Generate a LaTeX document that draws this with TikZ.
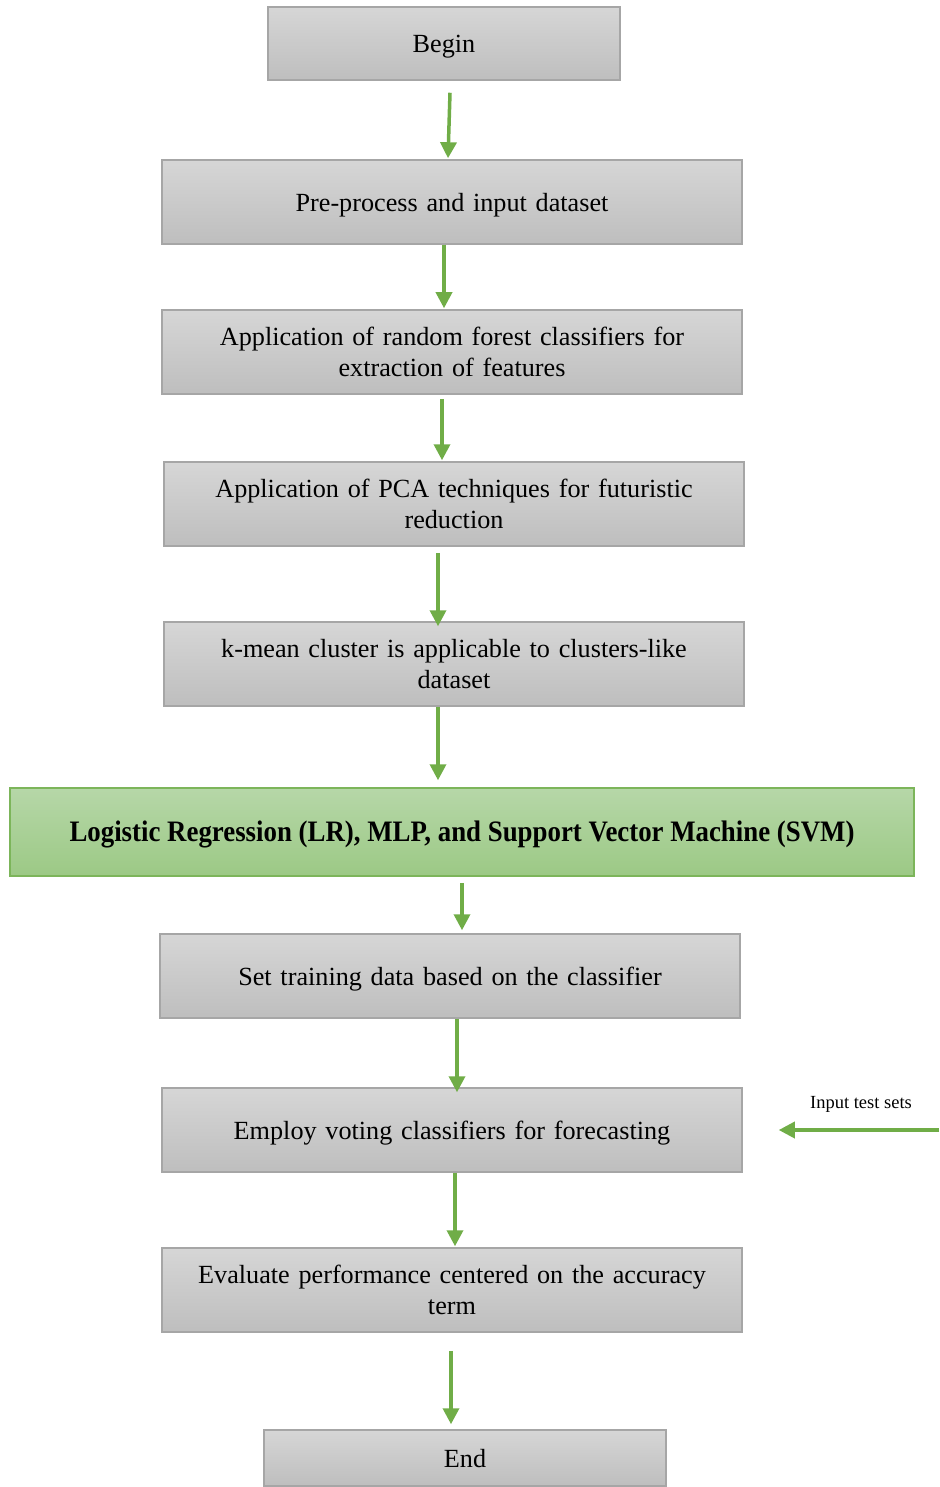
\documentclass[tikz,border=0pt]{standalone}
\usepackage{fontspec}
\setmainfont{Liberation Serif}
\usetikzlibrary{arrows.meta}
\definecolor{boxline}{HTML}{A6A6A6}
\definecolor{boxtop}{HTML}{D6D6D6}
\definecolor{boxbot}{HTML}{BEBEBE}
\definecolor{grtop}{HTML}{B6D7A8}
\definecolor{grbot}{HTML}{9CC985}
\definecolor{grline}{HTML}{7CB55A}
\definecolor{arrowgreen}{HTML}{70AD47}
\tikzset{
  stepbox/.style={rectangle, draw=boxline, line width=1.5pt, top color=boxtop, bottom color=boxbot,
    inner sep=0pt, align=center, text width=560pt, font=\fontsize{26.2}{31}\selectfont},
  oneline/.style={text height=23pt, text depth=4.5pt},
  modelbox/.style={rectangle, draw=grline, line width=1.5pt, top color=grtop, bottom color=grbot,
    inner sep=0pt, align=center, font=\fontsize{26.5}{31}\selectfont\bfseries},
  flow/.style={draw=arrowgreen, line width=3.5pt, -{Triangle[length=16pt,width=16pt]}},
  note/.style={inner sep=0pt, font=\fontsize{18.5}{22}\selectfont}
}
\begin{document}
\begin{tikzpicture}[x=1pt,y=-1pt]
\useasboundingbox (0,0) rectangle (939,1487);

\node[stepbox, oneline, text width=340pt, minimum width=352pt, minimum height=73pt] (begin) at (444,43.5) {Begin};
\node[stepbox, oneline, minimum width=580pt, minimum height=84pt] (prep) at (452,202) {Pre-process and input dataset};
\node[stepbox, minimum width=580pt, minimum height=84pt] (rf) at (452,352) {Application of random forest classifiers for\\extraction of features};
\node[stepbox, minimum width=580pt, minimum height=84pt] (pca) at (454,504) {Application of PCA techniques for futuristic\\reduction};
\node[stepbox, minimum width=580pt, minimum height=84pt] (km) at (454,664) {k-mean cluster is applicable to clusters-like\\dataset};
\node[modelbox, oneline, minimum width=904pt, minimum height=88pt] (model) at (462,832) {\scalebox{1.013}[1.12]{Logistic Regression (LR), MLP, and Support Vector Machine (SVM)}};
\node[stepbox, oneline, minimum width=580pt, minimum height=84pt] (train) at (450,976) {Set training data based on the classifier};
\node[stepbox, oneline, minimum width=580pt, minimum height=84pt] (vote) at (452,1130) {Employ voting classifiers for forecasting};
\node[stepbox, minimum width=580pt, minimum height=84pt] (eval) at (452,1290) {Evaluate performance centered on the accuracy\\term};
\node[stepbox, oneline, text width=390pt, minimum width=402pt, minimum height=56pt] (end) at (465,1458) {End};

\node[note] (testlbl) at (861,1104) {Input test sets};
\coordinate (testsrc) at (939,1130);

% connectors; shifts are in page coordinates (positive yshift = upward)
\draw[flow] ([xshift=6pt,yshift=-12pt]begin.south) -- ([xshift=-4pt,yshift=1pt]prep.north);
\draw[flow] ([xshift=-8pt]prep.south) -- ([xshift=-8pt,yshift=1pt]rf.north);
\draw[flow] ([xshift=-10pt,yshift=-4pt]rf.south) -- ([xshift=-12pt,yshift=1pt]pca.north);
\draw[flow] ([xshift=-16pt,yshift=-6pt]pca.south) -- ([xshift=-16pt,yshift=-5pt]km.north);
\draw[flow] ([xshift=-16pt]km.south) -- ([xshift=-24pt,yshift=7pt]model.north);
\draw[flow] ([xshift=0pt,yshift=-6pt]model.south) -- ([xshift=12pt,yshift=3pt]train.north);
\draw[flow] ([xshift=7pt]train.south) -- ([xshift=5pt,yshift=-5pt]vote.north);
\draw[flow] ([xshift=3pt]vote.south) -- ([xshift=3pt,yshift=1pt]eval.north);
\draw[flow] ([xshift=-1pt,yshift=-18pt]eval.south) -- ([xshift=-14pt,yshift=5pt]end.north);
\draw[flow] (testsrc) -- ([xshift=36pt]vote.east);
\end{tikzpicture}
\end{document}
